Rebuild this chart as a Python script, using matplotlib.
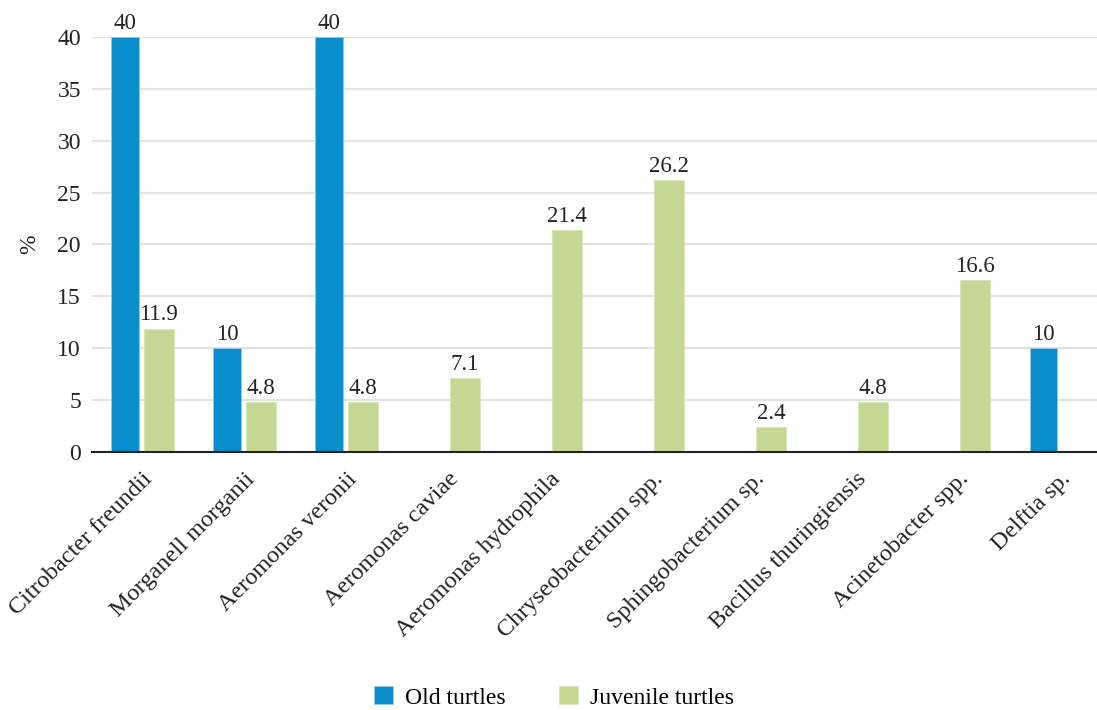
import numpy as np
import matplotlib.pyplot as plt

plt.rcParams['font.family'] = ['Liberation Serif', 'DejaVu Serif']

categories = ['Citrobacter freundii', 'Morganell morganii', 'Aeromonas veronii',
              'Aeromonas caviae', 'Aeromonas hydrophila', 'Chryseobacterium spp.',
              'Sphingobacterium sp.', 'Bacillus thuringiensis', 'Acinetobacter spp.',
              'Delftia sp.']
old = [40, 10, 40, 0, 0, 0, 0, 0, 0, 10]
juvenile = [11.9, 4.8, 4.8, 7.1, 21.4, 26.2, 2.4, 4.8, 16.6, 0]
yticks = [0, 5, 10, 15, 20, 25, 30, 35, 40]

blue = '#0a8dcb'
green = '#c5d893'
txt = '#222222'

fig = plt.figure(figsize=(10.97, 7.10), dpi=100)
ax = fig.add_axes([0.0839, 0.3634, 0.9161, 0.5845])

x = np.arange(len(categories))
b1 = ax.bar(x - 0.165, old, width=0.27, color=blue, edgecolor='#9cc8e0',
            linewidth=0.6, label='Old turtles', zorder=3)
b2 = ax.bar(x + 0.165, juvenile, width=0.30, color=green, edgecolor='#d8e4b8',
            linewidth=0.6, label='Juvenile turtles', zorder=3)

for bars, vals in ((b1, old), (b2, juvenile)):
    for r, v in zip(bars, vals):
        if v:
            ax.text(r.get_x() + r.get_width() / 2, v + 0.3, f'{v:g}',
                    ha='center', va='bottom', fontsize=16.5, color=txt,
                    clip_on=False)

ax.set_xlim(-0.49, 9.36)
ax.set_ylim(0, 40)
ax.set_yticks(yticks)
ax.set_xticks(x)
ax.set_xticklabels(categories, rotation=45, ha='right', rotation_mode='anchor',
                   fontsize=17.5, color=txt)
ax.tick_params(axis='y', length=0, labelsize=17, labelcolor=txt, pad=8)
ax.tick_params(axis='x', length=0, pad=12)
ax.grid(axis='y', color='#e3e3e3', linewidth=1.5, zorder=0)
for s in ['top', 'right', 'left']:
    ax.spines[s].set_visible(False)
ax.spines['bottom'].set_linewidth(1.5)
ax.spines['bottom'].set_color(txt)
ax.spines['bottom'].set_zorder(4)
ax.set_ylabel('%', fontsize=17, color=txt, labelpad=12)

fig.legend(handles=[b1, b2], loc='lower center', bbox_to_anchor=(0.505, -0.028),
           ncol=2, frameon=False, fontsize=17, handlelength=0.8,
           handleheight=0.8, columnspacing=2.3, handletextpad=0.5)

fig.savefig('out.png', dpi=100)
